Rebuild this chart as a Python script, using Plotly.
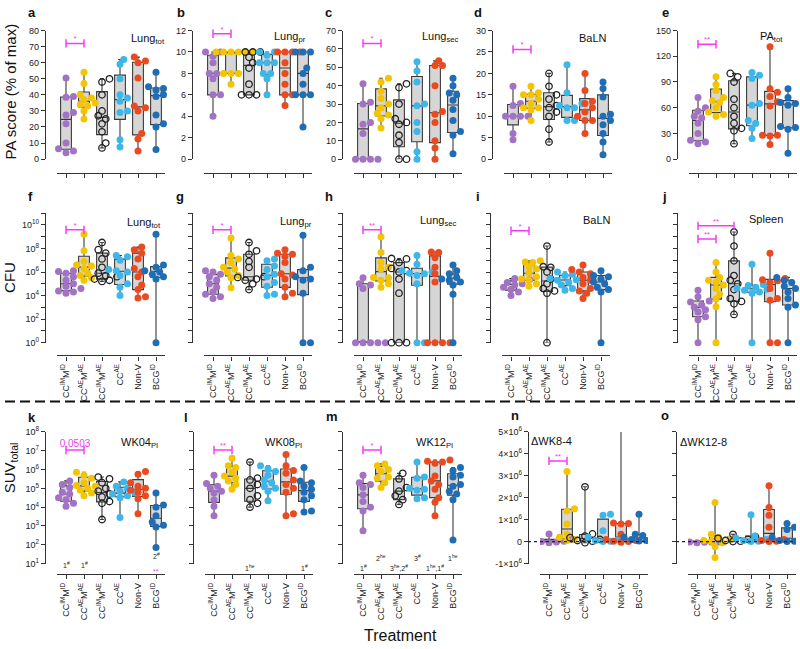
import numpy as np
import plotly.graph_objects as go

W, H = 800, 649

# ---------------- categories & styling ----------------
groups = ["CC<sup>IM</sup>M<sup>ID</sup>", "CC<sup>AE</sup>M<sup>AE</sup>", "CC<sup>IM</sup>M<sup>AE</sup>",
          "CC<sup>AE</sup>", "Non-V", "BCG<sup>ID</sup>"]
colors = ["#A272C4", "#F4C400", "rgba(255,255,255,0)", "#3DB6EA", "#EA4A1F", "#1F6DB5"]
MAG = "#F43CF4"

# ---------------- data ----------------
# Row 1: PA score (% of max)
a_lung_tot = [[50.5, 39, 38.5, 29, 27.5, 22, 10, 6.5, 5, 4],
              [54, 47, 40, 38, 37, 35, 34, 33, 30, 25],
              [50, 48, 40, 30, 27, 25, 22, 17, 10, 7],
              [62, 59, 50, 40, 38, 36, 30, 29, 12, 7.5],
              [63.5, 61, 60, 50.5, 33, 32, 30, 16, 12.5, 5],
              [54, 45, 44, 43, 40, 39, 27.5, 22, 20, 6]]
b_lung_pr = [[10, 10, 9.6, 9, 8, 8, 7.5, 6, 6, 4],
             [10, 10, 10, 10, 10, 10, 8, 8, 8, 7],
             [10, 10, 10, 9.5, 9, 8.5, 7, 6, 6, 6],
             [10, 10, 9.7, 9, 9, 9, 8, 8, 7.5, 6],
             [10, 10, 10, 10, 9, 8, 7, 6, 6, 5],
             [10, 10, 10, 10, 8.5, 8, 7, 6, 6, 6, 3]]
c_lung_sec = [[41, 31, 30, 20, 19, 14, 0, 0, 0, 0],
              [44, 42, 37, 33, 30, 28, 25, 24, 22, 17],
              [41, 39, 30, 22, 20, 19, 13, 9, 0, 0],
              [53, 48, 42, 30, 29, 20, 15, 4, 0],
              [53.5, 51, 51, 40, 26, 24.5, 20, 10, 6, 0],
              [44, 40, 36, 35, 32, 27, 21, 15, 13, 3]]
d_baln = [[17, 13, 12.5, 10, 10, 10, 10, 6, 4.5],
          [17, 15.5, 15, 15, 14, 13, 12, 12, 11.5, 9],
          [20, 17, 15, 14, 12.5, 12, 11, 10, 7, 4],
          [22, 15.5, 13, 12.5, 12, 12, 9, 9],
          [20, 16, 13.5, 13, 12, 11, 10, 9, 9, 6],
          [18, 16.5, 14.5, 10.5, 10, 9, 8, 6, 4, 1]]
e_pa_tot = [[72, 60, 56, 50, 48, 42, 30, 22, 20, 18],
            [96, 87, 80, 72, 68, 66, 60, 55, 52, 50],
            [100, 96, 90, 70, 60, 50, 42, 36, 33, 18],
            [101, 98, 94, 65, 63, 45, 42, 36, 24],
            [131, 82, 78, 73, 67, 62, 28, 28, 27, 17],
            [82, 72, 67, 66, 65, 63, 38, 37, 35, 7]]

# Row 2: CFU
f_lung_tot = [[1.3e6, 1.1e6, 7.9e5, 4.0e5, 2.0e5, 1.0e5, 6.3e4, 4.0e4, 2.5e4, 2.0e4, 1.6e4],
              [1.6e9, 6.3e7, 7.9e6, 4.0e6, 3.2e6, 2.0e6, 7.9e5, 5.0e5, 3.2e5, 2.0e5],
              [3.2e8, 7.9e7, 4.0e7, 1.3e7, 2.5e6, 7.9e5, 5.0e5, 4.0e5, 2.5e5, 2.0e5, 1.6e5],
              [2.5e7, 2.0e7, 1.0e7, 1.6e6, 1.3e6, 1.0e6, 5.0e5, 1.0e5, 5.0e4, 1.0e4],
              [1.3e8, 7.9e7, 4.0e7, 1.3e7, 2.0e6, 1.0e6, 4.0e5, 7.9e4, 3.2e4, 7.9e3, 6.3e3],
              [1.6e9, 4.0e6, 2.5e6, 1.3e6, 1.2e6, 1.0e6, 6.3e5, 4.0e5, 2.5e5, 1]]
g_lung_pr = [[1.3e6, 1.0e6, 6.3e5, 4.0e5, 2.0e5, 1.0e5, 5.0e4, 2.0e4, 1.3e4, 7.9e3, 5.6e3],
             [7.9e8, 2.5e7, 1.3e7, 6.3e6, 2.5e6, 1.8e6, 1.0e6, 5.0e5, 3.2e5, 4.5e4],
             [3.2e8, 6.3e7, 3.2e7, 7.9e6, 2.5e6, 4.0e5, 3.5e5, 2.5e5, 2.0e5, 1.0e5, 3.2e4],
             [1.3e7, 8.9e6, 3.2e6, 1.6e6, 6.3e5, 4.0e5, 1.3e5, 6.3e4, 1.3e4, 1.0e4],
             [7.9e7, 4.0e7, 3.2e7, 2.2e7, 6.3e6, 7.1e5, 5.6e5, 2.5e5, 5.0e4, 1.6e4, 7.9e3],
             [1.3e9, 2.5e6, 1.3e6, 5.0e5, 4.0e5, 2.5e5, 2.0e5, 1.6e4, 1, 1]]
h_lung_sec = [[3.2e5, 1.6e5, 1.0e5, 7.9e4, 4.0e4, 1, 1, 1, 1, 1, 1],
              [1.0e9, 4.5e7, 6.3e6, 2.5e6, 1.8e6, 3.5e5, 3.2e5, 2.0e5, 1.0e5, 5.0e4],
              [1.4e7, 1.3e7, 6.3e6, 2.0e6, 1.3e6, 1.0e6, 2.5e5, 1.6e4, 1, 1, 1],
              [2.5e7, 4.5e6, 1.3e6, 1.0e6, 7.9e5, 7.1e5, 5.0e5, 1.0e5, 1, 1],
              [5.0e7, 4.5e7, 1.6e7, 2.5e6, 7.1e5, 1.4e5, 1, 1, 1, 1],
              [4.0e6, 1.3e6, 7.1e5, 5.0e5, 4.5e5, 3.5e5, 2.5e5, 2.0e5, 1.4e5, 7.9e4, 1.3e4, 1]]
i_baln = [[2.8e5, 2.2e5, 1.6e5, 1.3e5, 1.0e5, 7.9e4, 5.0e4, 3.2e4, 2.0e4, 1.0e4],
          [8.9e6, 7.1e6, 6.3e6, 2.5e6, 1.8e6, 7.9e5, 4.0e5, 2.5e5, 2.0e5, 1.0e5, 6.3e4],
          [1.6e8, 2.8e6, 2.5e6, 1.0e6, 2.5e5, 1.0e5, 4.0e4, 2.5e4, 1.6e4, 1],
          [1.0e6, 6.3e5, 5.0e5, 2.8e5, 2.2e5, 2.0e5, 1.3e5, 7.9e4, 4.0e4, 2.8e4],
          [4.0e6, 1.6e6, 1.0e6, 7.1e5, 3.5e5, 2.0e5, 1.0e5, 4.0e4, 2.5e4, 1.6e4, 5.6e3],
          [1.3e6, 5.6e5, 5.0e5, 4.0e5, 2.5e5, 1.4e5, 1.0e5, 5.0e4, 3.2e4, 2.0e4, 1]]
j_spleen = [[2.8e4, 7.9e3, 3.5e3, 2.8e3, 1.6e3, 1.0e3, 6.3e2, 4.0e2, 1.6e2, 89, 1],
            [6.3e6, 1.0e6, 3.5e5, 2.0e5, 1.4e5, 7.9e4, 4.0e4, 1.3e4, 5.0e3, 1.1e3, 1],
            [2.5e9, 1.6e8, 8.9e6, 5.0e5, 2.0e5, 1.0e5, 3.2e4, 5.6e3, 3.2e3, 2.0e3, 2.5e2],
            [4.5e6, 8.9e4, 7.1e4, 5.0e4, 4.0e4, 3.5e4, 2.8e4, 2.0e4, 1.6e4, 1],
            [4.0e7, 2.8e5, 2.2e5, 1.8e5, 1.3e5, 4.0e4, 5.6e3, 4.0e3, 1, 1],
            [3.5e5, 2.5e5, 2.0e5, 1.3e5, 6.3e4, 4.0e4, 2.0e4, 5.6e3, 1.6e3, 1.0e3, 1]]

# Row 3: SUV total
k_wk04 = [[2.5e5, 1.6e5, 1.1e5, 6.3e4, 5.0e4, 3.2e4, 2.5e4, 1.6e4, 1.1e4],
          [7.1e5, 5.0e5, 3.5e5, 2.0e5, 1.4e5, 1.3e5, 1.0e5, 7.9e4, 5.6e4, 4.0e4],
          [4.0e5, 3.2e5, 2.0e5, 1.0e5, 7.1e4, 5.0e4, 3.5e4, 2.0e4, 1.6e4, 2.2e3],
          [2.2e5, 1.3e5, 1.0e5, 7.1e4, 5.6e4, 5.0e4, 4.0e4, 3.2e4, 2.8e3],
          [7.9e5, 5.6e5, 2.0e5, 1.3e5, 1.0e5, 7.9e4, 6.3e4, 4.0e4, 2.8e4, 4.5e3],
          [5.6e4, 1.3e4, 1.0e4, 3.5e3, 1.6e3, 1.1e3, 8.9e2, 71]]
l_wk08 = [[5.0e5, 1.8e5, 1.3e5, 1.0e5, 7.1e4, 5.6e4, 2.5e4, 1.1e4, 3.5e3],
          [4.0e6, 1.6e6, 1.3e6, 7.1e5, 4.5e5, 3.5e5, 2.5e5, 1.6e5, 8.9e4],
          [2.5e6, 3.5e5, 2.8e5, 1.6e5, 1.0e5, 4.0e4, 2.5e4, 1.6e4, 1.0e4],
          [1.6e6, 1.1e6, 7.9e5, 5.0e5, 2.8e5, 2.0e5, 1.3e5, 1.0e5, 7.1e4, 2.2e4],
          [6.3e6, 1.6e6, 8.9e5, 6.3e5, 2.8e5, 1.6e5, 1.0e5, 6.3e4, 4.5e3, 3.5e3],
          [1.3e6, 2.5e5, 2.0e5, 1.3e5, 8.9e4, 6.3e4, 4.0e4, 2.5e4, 6.3e3, 5.6e3]]
m_wk12 = [[5.0e5, 2.0e5, 1.6e5, 1.1e5, 4.5e4, 2.0e4, 1.0e4, 6.3e3, 5.6e2],
          [2.0e6, 1.6e6, 1.0e6, 7.9e5, 4.0e5, 3.5e5, 2.0e5, 1.1e5],
          [6.3e5, 3.2e5, 1.1e5, 7.1e4, 4.0e4, 2.5e4, 1.4e4],
          [2.5e6, 4.0e5, 3.5e5, 1.0e5, 8.9e4, 7.9e4, 3.2e4, 2.8e4],
          [3.2e6, 2.8e6, 2.5e6, 2.2e6, 4.5e5, 2.5e5, 1.6e5, 8.9e4, 3.2e4, 1.8e4, 3.5e3],
          [1.3e6, 8.9e5, 5.0e5, 4.0e5, 1.6e5, 1.3e5, 7.1e4, 5.0e4, 2.5e4, 1.8e2]]
n_dwk8_4 = [[3.5e5, 1.0e5, 5e4, 2e4, 0, -2e4, -5e4],
            [3.2e6, 1.5e6, 1.4e6, 8e5, 3.5e5, 2e5, 1e5, 5e4],
            [2.5e6, 3.5e5, 2.5e5, 1.8e5, 1e5, 5e4, 2e4, -5e4],
            [1.25e6, 1.2e6, 5e5, 2e5, 1e5, 5e4, 2e4, 0],
            [8.0e6, 8.5e5, 8.2e5, 8e5, 3.3e5, 1e5, 5e4, 2e4, 0, -3e4],
            [1.25e6, 3.3e5, 2.8e5, 2e5, 1.5e5, 1e5, 5e4, 3e4]]
o_dwk12_8 = [[5e4, 2e4, 0, 0, -2e4, -3e4, -5e4],
             [1.78e6, 3.3e5, 2e5, 1.2e5, 5e4, 0, -5e4, -2.4e5, -7.3e5],
             [3.3e5, 2.2e5, 1.5e5, 1e5, 5e4, 2e4, 0],
             [1.22e6, 2.5e5, 1.5e5, 1e5, 5e4, 2e4, 0],
             [2.55e6, 1.55e6, 1.2e6, 6.5e5, 1e5, 5e4, 2e4, 0],
             [8.2e5, 6.5e5, 5.5e5, 2e5, 1e5, 5e4, 2e4, 0]]

# ticks
lin_ticks = {"a": (0, 80, 10), "b": (0, 12, 2), "c": (0, 70, 10), "d": (0, 30, 5), "e": (0, 150, 30)}
cfu_exps = list(range(0, 12))
suv_exps = list(range(1, 9))
delta_ticks = [-1e6, 0, 1e6, 2e6, 3e6, 4e6, 5e6]
delta_text = ["-1×10<sup>6</sup>", "0", "1×10<sup>6</sup>", "2×10<sup>6</sup>", "3×10<sup>6</sup>",
              "4×10<sup>6</sup>", "5×10<sup>6</sup>"]

# ---------------- panel layout ----------------
ROWS = {1: dict(top=24, bot=155, xline=169),
        2: dict(top=210, bot=342, xline=355),
        3: dict(top=433, bot=567, xline=578)}

panels = [
    dict(key="a", data=a_lung_tot, row=1, A=45, kind="lin", title="Lung<sub>tot</sub>", tpos=(148, 33), lpos=(32, 6), sig=[(0, 1, 72, "*")]),
    dict(key="b", data=b_lung_pr, row=1, A=192, kind="lin", title="Lung<sub>pr</sub>", tpos=(290, 31), lpos=(181, 6), sig=[(0, 1, 11.7, "*")]),
    dict(key="c", data=c_lung_sec, row=1, A=342, kind="lin", title="Lung<sub>sec</sub>", tpos=(440, 31), lpos=(328, 6), sig=[(0, 1, 63, "*")]),
    dict(key="d", data=d_baln, row=1, A=492, kind="lin", title="BaLN", tpos=(593, 32), lpos=(478, 6), sig=[(0, 1, 25.6, "*")]),
    dict(key="e", data=e_pa_tot, row=1, A=677, kind="lin", title="PA<sub>tot</sub>", tpos=(771, 31), lpos=(665, 6), sig=[(0, 1, 134, "**")]),
    dict(key="f", data=f_lung_tot, row=2, A=45, kind="cfu", title="Lung<sub>tot</sub>", tpos=(144, 220), lpos=(30, 193), sig=[(0, 1, 3.8e9, "*")], labels=True),
    dict(key="g", data=g_lung_pr, row=2, A=192, kind="cfu", title="Lung<sub>pr</sub>", tpos=(296, 219), lpos=(180, 193), sig=[(0, 1, 3.8e9, "*")]),
    dict(key="h", data=h_lung_sec, row=2, A=342, kind="cfu", title="Lung<sub>sec</sub>", tpos=(438, 218), lpos=(329, 193), sig=[(0, 1, 3.8e9, "**")]),
    dict(key="i", data=i_baln, row=2, A=490, kind="cfu", title="BaLN", tpos=(597, 217), lpos=(478, 193), sig=[(0, 1, 3.2e9, "*")]),
    dict(key="j", data=j_spleen, row=2, A=677, kind="cfu", title="Spleen", tpos=(766, 216), lpos=(664, 193), sig=[(0, 2, 8.3e9, "**"), (0, 1, 6.3e8, "**")]),
    dict(key="k", data=k_wk04, row=3, A=45, kind="suv", title="WK04<sub>PI</sub>", tpos=(139, 444), lpos=(32, 418), sig=[(0, 1, 1.1e7, "0.0503")], labels=True),
    dict(key="l", data=l_wk08, row=3, A=193, kind="suv", title="WK08<sub>PI</sub>", tpos=(283, 444), lpos=(186, 418), sig=[(0, 1, 1.1e7, "**")]),
    dict(key="m", data=m_wk12, row=3, A=342, kind="suv", title="WK12<sub>PI</sub>", tpos=(435, 444), lpos=(332, 417), sig=[(0, 1, 1.1e7, "*")]),
    dict(key="n", data=n_dwk8_4, row=3, A=528, kind="delta", title="ΔWK8-4", tpos=(551, 442), lpos=(515, 416), sig=[(0, 1, 3.68e6, "**")], labels=True),
    dict(key="o", data=o_dwk12_8, row=3, A=676, kind="delta", title="ΔWK12-8", tpos=(703, 443), lpos=(665, 416), sig=[]),
]

# notes under row 3 boxes: (panel, category, text, colour, y px)
notes = [("k", 0, "1<sup>#</sup>", "#222", 569), ("k", 1, "1<sup>#</sup>", "#222", 569),
         ("k", 5, "2<sup>#</sup>", "#222", 559), ("k", 5, "**", MAG, 575),
         ("l", 2, "1<sup>he</sup>", "#222", 572), ("l", 5, "1<sup>#</sup>", "#222", 572),
         ("m", 1, "2<sup>he</sup>", "#222", 561), ("m", 3, "3<sup>#</sup>", "#222", 561),
         ("m", 5, "1<sup>he</sup>", "#222", 561), ("m", 0, "1<sup>#</sup>", "#222", 572),
         ("m", 2, "3<sup>he</sup>,2<sup>#</sup>", "#222", 572), ("m", 4, "1<sup>he</sup>,1<sup>#</sup>", "#222", 572)]

FONT = "Liberation Sans, Arial, sans-serif"
AXC = "#333333"


def px_x(p):
    return p / W


def px_y(p):
    return 1 - p / H


def swarm(vals, to_px, d=6.8):
    vals = np.asarray(vals, float)
    order = np.argsort(vals)
    step = d * 0.55
    cands = [0.0]
    for j in range(1, 8):
        cands += [j * step, -j * step]
    placed = []
    offs = np.zeros(len(vals))
    for i in order:
        y = to_px(vals[i])
        chosen = cands[-1]
        for c in cands:
            if all((c - p) ** 2 + (y - q) ** 2 >= (d * 0.88) ** 2 for p, q in placed):
                chosen = c
                break
        placed.append((chosen, y))
        offs[i] = chosen
    return offs


def ann(text, x, y, size, color="#111", xref="paper", angle=0):
    return dict(text=text, x=x, y=y, xref=xref, yref="paper", showarrow=False,
                xanchor="center", yanchor="middle", textangle=angle,
                font=dict(size=size, color=color, family=FONT))


fig = go.Figure()
layout = {}
annotations = []
shapes = []
axis_of = {}

for n, P in enumerate(panels, start=1):
    R = ROWS[P["row"]]
    A = P["A"]
    sfx = "" if n == 1 else str(n)
    xr, yr = "x" + sfx, "y" + sfx
    axis_of[P["key"]] = xr
    kind = P["kind"]
    show_lab = P["row"] > 1

    layout["xaxis" + sfx] = dict(
        domain=[px_x(A + 12), px_x(A + 120)], range=[-0.5, 5.5], anchor="free",
        position=px_y(R["xline"]), tickmode="array", tickvals=list(range(6)),
        ticktext=groups if show_lab else [""] * 6, tickangle=-90, ticks="outside",
        ticklen=4, tickwidth=1, tickcolor=AXC, showline=True, linecolor=AXC, linewidth=1.2,
        showgrid=False, zeroline=False, tickfont=dict(size=9, color="#222", family=FONT))

    ya = dict(domain=[px_y(R["bot"]), px_y(R["top"])], anchor="free", position=px_x(A),
              ticks="outside", ticklen=4, tickwidth=1, tickcolor=AXC, showline=True,
              linecolor=AXC, linewidth=1.2, showgrid=False, zeroline=False,
              tickfont=dict(size=9, color="#222", family=FONT), tickmode="array")
    if kind == "lin":
        lo, hi, dt = lin_ticks[P["key"]]
        tv = list(np.arange(lo, hi + dt / 2, dt))
        ya.update(range=[lo, hi], tickvals=tv, ticktext=[f"{v:g}" for v in tv])
        to_px = lambda v, lo=lo, hi=hi: (v - lo) / (hi - lo) * (R["bot"] - R["top"])
    elif kind == "cfu":
        ya.update(type="log", range=[0, 11], tickvals=[10.0 ** e for e in cfu_exps],
                  ticktext=[(f"10<sup>{e}</sup>" if (P.get("labels") and e % 2 == 0 and e <= 10) else "")
                            for e in cfu_exps])
        to_px = lambda v: np.log10(v) / 11 * (R["bot"] - R["top"])
    elif kind == "suv":
        ya.update(type="log", range=[1, 8], tickvals=[10.0 ** e for e in suv_exps],
                  ticktext=[(f"10<sup>{e}</sup>" if P.get("labels") else "") for e in suv_exps])
        to_px = lambda v: (np.log10(v) - 1) / 7 * (R["bot"] - R["top"])
    else:
        ya.update(range=[-1e6, 5e6], tickvals=delta_ticks,
                  ticktext=delta_text if P.get("labels") else [""] * len(delta_ticks))
        to_px = lambda v: (v + 1e6) / 6e6 * (R["bot"] - R["top"])
        shapes.append(dict(type="line", xref="paper", yref=yr, x0=px_x(A), x1=px_x(A + 120),
                           y0=0, y1=0, line=dict(color="#222", width=1.2, dash="dot")))
    layout["yaxis" + sfx] = ya

    clip = kind == "delta"
    for gi, vals in enumerate(P["data"]):
        v = np.asarray(vals, float)
        q1, med, q3 = np.percentile(v, [25, 50, 75], method="weibull")
        fig.add_trace(go.Box(x=[gi], q1=[q1], median=[med], q3=[q3], lowerfence=[v.min()],
                             upperfence=[v.max()], orientation="v", width=0.6, whiskerwidth=0.35,
                             fillcolor="#D6D6D6", line=dict(color="#3A3A3A", width=1.1),
                             boxpoints=False, xaxis=xr, yaxis=yr, hoverinfo="skip"))
        offs = swarm(v, to_px) / 18.0
        if gi == 2:
            mk = dict(size=6.5, color="rgba(255,255,255,0)", line=dict(color="#222", width=1.3))
        else:
            mk = dict(size=7, color=colors[gi], line=dict(width=0))
        fig.add_trace(go.Scatter(x=gi + offs, y=v, mode="markers", marker=mk, cliponaxis=clip,
                                 xaxis=xr, yaxis=yr, hoverinfo="skip"))

    for (x0, x1, yv, txt) in P["sig"]:
        fig.add_trace(go.Scatter(x=[x0, x1], y=[yv, yv], mode="lines+markers",
                                 line=dict(color=MAG, width=1.5),
                                 marker=dict(symbol="line-ns", size=6, line=dict(color=MAG, width=1.5)),
                                 cliponaxis=False, xaxis=xr, yaxis=yr, hoverinfo="skip"))
        fig.add_trace(go.Scatter(x=[(x0 + x1) / 2], y=[yv],
                                 mode="text", text=[txt], textposition="top center",
                                 textfont=dict(color=MAG, size=10 if len(txt) > 2 else 8, family=FONT),
                                 cliponaxis=False, xaxis=xr, yaxis=yr, hoverinfo="skip"))

    annotations.append(ann(P["title"], px_x(P["tpos"][0]), px_y(P["tpos"][1]), 11))
    annotations.append(ann("<b>" + P["key"] + "</b>", px_x(P["lpos"][0]), px_y(P["lpos"][1]), 13))

for (pk, ci, txt, col, ypx) in notes:
    annotations.append(ann(txt, ci, px_y(ypx), 7, color=col, xref=axis_of[pk]))

# axis titles
annotations += [
    ann("PA score (% of max)", px_x(10), px_y(86), 15, angle=-90),
    ann("CFU", px_x(10), px_y(276), 15, angle=-90),
    ann("SUV<sub>total</sub>", px_x(10), px_y(470), 15, angle=-90),
    ann("Treatment", 0.5, px_y(640), 16),
]

shapes.append(dict(type="line", xref="paper", yref="paper", x0=px_x(5), x1=px_x(795),
                   y0=px_y(402), y1=px_y(402), line=dict(color="#111", width=2, dash="10px,5px")))

fig.update_layout(**layout)
fig.update_layout(width=W, height=H, margin=dict(l=0, r=0, t=0, b=0), showlegend=False,
                  boxmode="overlay", plot_bgcolor="white", paper_bgcolor="white",
                  annotations=annotations, shapes=shapes, font=dict(family=FONT))

fig.write_html("out.html", config={"displayModeBar": False},
               post_script="document.body.style.margin='0';document.body.style.overflow='hidden';")
